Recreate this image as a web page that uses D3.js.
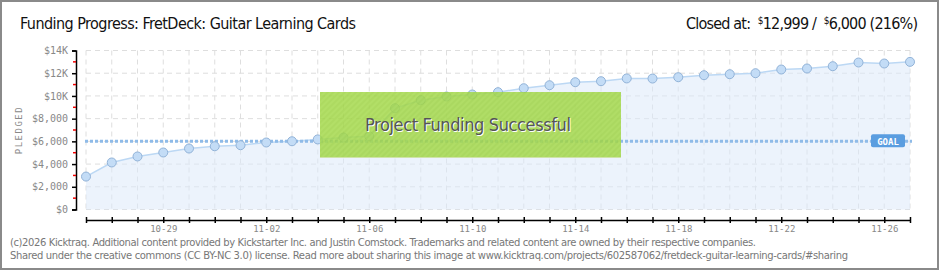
<!DOCTYPE html>
<html>
<head>
<meta charset="utf-8">
<script src="https://cdn.jsdelivr.net/npm/d3@7/dist/d3.min.js"></script>
<style>
body { margin: 0; background: #fff; }
svg { display: block; }
</style>
</head>
<body>
<div id="chart"></div>
<script>
var W = 940, H = 270;

// data
var dates = ["2025-10-26","2025-10-27","2025-10-28","2025-10-29","2025-10-30","2025-10-31",
	"2025-11-01","2025-11-02","2025-11-03","2025-11-04","2025-11-05","2025-11-06","2025-11-07",
	"2025-11-08","2025-11-09","2025-11-10","2025-11-11","2025-11-12","2025-11-13","2025-11-14",
	"2025-11-15","2025-11-16","2025-11-17","2025-11-18","2025-11-19","2025-11-20","2025-11-21",
	"2025-11-22","2025-11-23","2025-11-24","2025-11-25","2025-11-26","2025-11-27"];
var pledged = [2900,4140,4670,5020,5370,5570,5660,5900,6010,6170,6340,6455,8920,
	9625,9950,10125,10330,10680,10944,11208,11296,11540,11530,11650,11825,11913,12000,
	12326,12414,12618,12942,12855,12999];
var goal = 6000;
var yTicks = [0,2000,4000,6000,8000,10000,12000,14000];
var yMinorTicks = [1000,3000,5000,7000,9000,11000,13000];
var xLabelDates = ["2025-10-29","2025-11-02","2025-11-06","2025-11-10","2025-11-14","2025-11-18","2025-11-22","2025-11-26"];

var parseDate = d3.timeParse("%Y-%m-%d");
var dataset = dates.map(function(d, i) { return {date: parseDate(d), value: pledged[i]}; });

var svg = d3.select("#chart").append("svg")
	.attr("width", W).attr("height", H);

var defs = svg.append("defs");
var pat = defs.append("pattern")
	.attr("id", "hatch")
	.attr("patternUnits", "userSpaceOnUse")
	.attr("width", 4).attr("height", 4)
	.attr("patternTransform", "rotate(45)");
pat.append("rect").attr("width", 4).attr("height", 4).attr("fill", "#a5d94c");
pat.append("rect").attr("width", 2).attr("height", 4).attr("fill", "#9fd345");

// outer frame
svg.append("rect")
	.attr("x", 1).attr("y", 1).attr("width", W - 3).attr("height", H - 2)
	.attr("fill", "#fff").attr("stroke", "#8a8a8a").attr("stroke-width", 2);

var xScale = d3.scaleTime()
	.domain([dataset[0].date, dataset[dataset.length - 1].date])
	.range([86, 910]);

var yScale = d3.scaleLinear()
	.domain([0, 14000])
	.range([209.5, 50.5]);

// grid
svg.append("g").selectAll("line")
	.data(dataset)
	.enter().append("line")
	.attr("x1", d => xScale(d.date)).attr("x2", d => xScale(d.date))
	.attr("y1", yScale(14000)).attr("y2", yScale(0))
	.attr("stroke", "#dedede").attr("stroke-dasharray", "5,4");

svg.append("g").selectAll("line")
	.data(yTicks)
	.enter().append("line")
	.attr("x1", 86).attr("x2", 910)
	.attr("y1", d => yScale(d)).attr("y2", d => yScale(d))
	.attr("stroke", "#dedede").attr("stroke-dasharray", "5,4");

// area + line
var area = d3.area()
	.x(d => xScale(d.date))
	.y0(yScale(0))
	.y1(d => yScale(d.value));

svg.append("path")
	.datum(dataset)
	.attr("d", area)
	.attr("fill", "#dceafa")
	.attr("fill-opacity", 0.55);

var line = d3.line()
	.x(d => xScale(d.date))
	.y(d => yScale(d.value));

svg.append("path")
	.datum(dataset)
	.attr("d", line)
	.attr("fill", "none")
	.attr("stroke", "#bcd8f4")
	.attr("stroke-width", 1.5);

// goal line
svg.append("line")
	.attr("x1", 85).attr("x2", 912)
	.attr("y1", yScale(goal)).attr("y2", yScale(goal))
	.attr("stroke", "#8fbbe8")
	.attr("stroke-width", 3)
	.attr("stroke-dasharray", "3,2");

// points
svg.append("g").selectAll("circle")
	.data(dataset)
	.enter().append("circle")
	.attr("cx", d => xScale(d.date))
	.attr("cy", d => yScale(d.value))
	.attr("r", 4.5)
	.attr("fill", "#c3dcf6")
	.attr("stroke", "#92b3d8")
	.attr("stroke-width", 1);

// goal label
svg.append("rect")
	.attr("x", 871).attr("y", yScale(goal) - 7)
	.attr("width", 34).attr("height", 13)
	.attr("rx", 2)
	.attr("fill", "#5a9de0");
svg.append("text")
	.attr("x", 888).attr("y", yScale(goal) + 3.5)
	.attr("text-anchor", "middle")
	.style("font-family", "DejaVu Sans Mono, monospace")
	.style("font-size", "9px")
	.style("font-weight", "bold")
	.attr("fill", "#fff")
	.text("GOAL");

// success banner
svg.append("rect")
	.attr("x", 320).attr("y", 92)
	.attr("width", 301).attr("height", 66)
	.attr("fill", "url(#hatch)")
	.attr("fill-opacity", 0.85);
svg.append("line")
	.attr("x1", 320).attr("x2", 621).attr("y1", 157.5).attr("y2", 157.5)
	.attr("stroke", "#cfe3a8").attr("stroke-width", 1);
svg.append("text")
	.attr("x", 469).attr("y", 132)
	.attr("text-anchor", "middle")
	.style("font-family", "Liberation Sans Narrow, DejaVu Sans Condensed, sans-serif")
	.style("font-size", "18px")
	.attr("fill", "#fff")
	.attr("textLength", 206)
	.text("Project Funding Successful");
svg.append("text")
	.attr("x", 468).attr("y", 131)
	.attr("text-anchor", "middle")
	.style("font-family", "Liberation Sans Narrow, DejaVu Sans Condensed, sans-serif")
	.style("font-size", "18px")
	.attr("fill", "#555")
	.attr("textLength", 206)
	.text("Project Funding Successful");

// y axis
var yAxis = d3.axisLeft(yScale)
	.tickValues(yTicks)
	.tickSize(4)
	.tickPadding(4)
	.tickFormat(d => d >= 10000 ? "$" + (d / 1000) + "K" : "$" + d3.format(",")(d));

var gy = svg.append("g")
	.attr("transform", "translate(76,0)")
	.call(yAxis);
gy.select(".domain").attr("stroke", "#000").attr("stroke-width", 1.5);
gy.selectAll(".tick line").attr("stroke", "#000").attr("stroke-width", 1.5);
gy.selectAll(".tick text")
	.style("font-family", "DejaVu Sans Mono, monospace")
	.style("font-size", "10px")
	.attr("fill", "#888");

svg.append("g").selectAll("line")
	.data(yMinorTicks)
	.enter().append("line")
	.attr("x1", 73).attr("x2", 76)
	.attr("y1", d => yScale(d)).attr("y2", d => yScale(d))
	.attr("stroke", "#e00").attr("stroke-width", 1.5);

// y axis label
svg.append("text")
	.attr("transform", "translate(22,130) rotate(-90)")
	.attr("text-anchor", "middle")
	.style("font-family", "DejaVu Sans Mono, monospace")
	.style("font-size", "9px")
	.style("letter-spacing", "1.5px")
	.attr("fill", "#888")
	.text("PLEDGED");

// x axis
var xAxis = d3.axisBottom(xScale)
	.tickValues(dataset.map(d => d.date))
	.tickSizeInner(6)
	.tickSizeOuter(0)
	.tickPadding(4)
	.tickFormat(function(d) {
		var s = d3.timeFormat("%Y-%m-%d")(d);
		return xLabelDates.indexOf(s) >= 0 ? d3.timeFormat("%m-%d")(d) : "";
	});

var gx = svg.append("g")
	.attr("transform", "translate(0,220)")
	.call(xAxis);
gx.select(".domain").attr("stroke", "#000").attr("stroke-width", 1.5);
gx.selectAll(".tick line").attr("y1", -3).attr("y2", 3).attr("stroke", "#000").attr("stroke-width", 1.5);
gx.selectAll(".tick text")
	.attr("y", 6)
	.style("font-family", "DejaVu Sans Mono, monospace")
	.style("font-size", "9px")
	.attr("fill", "#888");

// title
svg.append("text")
	.attr("x", 20).attr("y", 29)
	.style("font-family", "Liberation Sans Narrow, DejaVu Sans Condensed, sans-serif")
	.style("font-size", "16px")
	.attr("fill", "#111")
	.attr("textLength", 336)
	.text("Funding Progress: FretDeck: Guitar Learning Cards");

var closedText = svg.append("text")
	.attr("x", 686).attr("y", 29)
	.style("font-family", "Liberation Sans Narrow, DejaVu Sans Condensed, sans-serif")
	.style("font-size", "16px")
	.style("white-space", "pre")
	.attr("textLength", 232)
	.attr("fill", "#111");
closedText.append("tspan").text("Closed at:  ");
closedText.append("tspan").style("font-size", "10px").attr("dy", -5).text("$");
closedText.append("tspan").attr("dy", 5).text("12,999 /  ");
closedText.append("tspan").style("font-size", "10px").attr("dy", -5).text("$");
closedText.append("tspan").attr("dy", 5).text("6,000 (216%)");

// footer
svg.append("text")
	.attr("x", 10).attr("y", 246)
	.style("font-family", "DejaVu Sans, sans-serif")
	.style("font-size", "10px")
	.attr("fill", "#777")
	.attr("textLength", 746)
	.text("(c)2026 Kicktraq. Additional content provided by Kickstarter Inc. and Justin Comstock. Trademarks and related content are owned by their respective companies.");
svg.append("text")
	.attr("x", 10).attr("y", 259)
	.style("font-family", "DejaVu Sans, sans-serif")
	.style("font-size", "10px")
	.attr("fill", "#777")
	.attr("textLength", 838)
	.text("Shared under the creative commons (CC BY-NC 3.0) license. Read more about sharing this image at www.kicktraq.com/projects/602587062/fretdeck-guitar-learning-cards/#sharing");
</script>
</body>
</html>
